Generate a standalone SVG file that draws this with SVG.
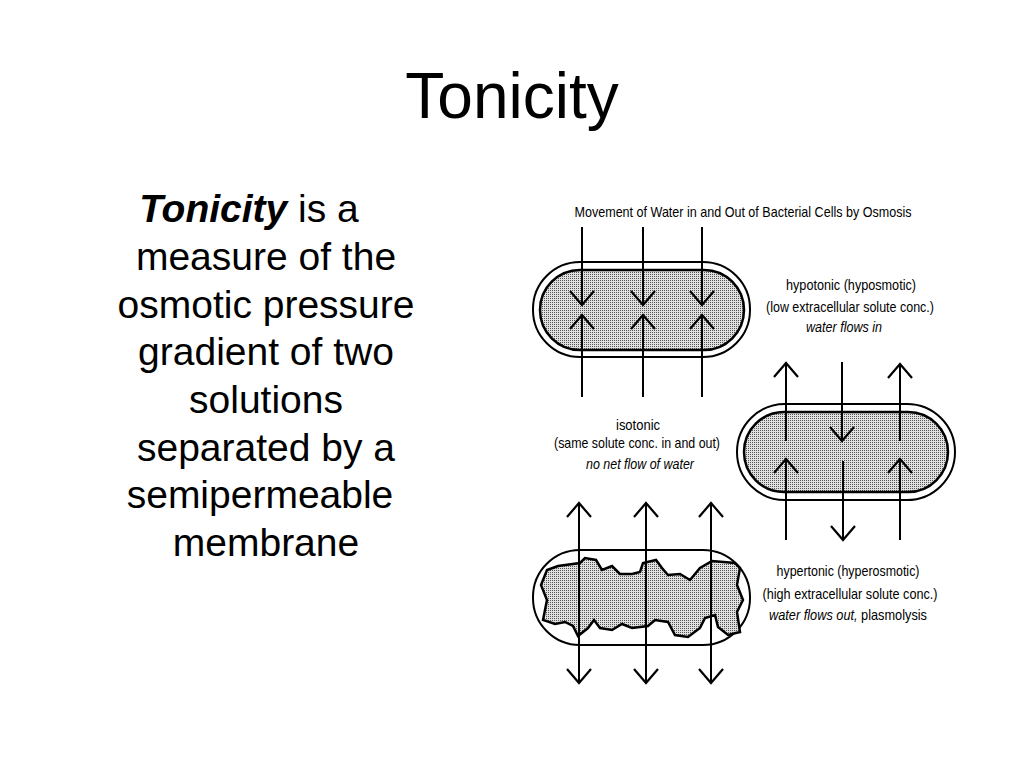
<svg xmlns="http://www.w3.org/2000/svg" width="1024" height="768" viewBox="0 0 1024 768">
<defs>
<pattern id="dots" width="2" height="2" patternUnits="userSpaceOnUse"><rect width="2" height="2" fill="#e0e0e0"/><rect width="1" height="1" fill="#555"/></pattern>
<marker id="ah" markerWidth="17" markerHeight="28" refX="15" refY="13" orient="auto" markerUnits="userSpaceOnUse"><path d="M1,1 L15,13 L1,25" fill="none" stroke="#000" stroke-width="2.2"/></marker>
</defs>
<style>
.t{font-family:"Liberation Sans",Arial,sans-serif;fill:#000}
.s{font-family:"Liberation Sans",Arial,sans-serif;font-size:15px;fill:#000;text-anchor:middle}
.cell{fill:none;stroke:#000;stroke-width:2}
.cyt{fill:url(#dots);stroke:#000;stroke-width:2.5}
.ar{stroke:#000;stroke-width:2;fill:none}
</style>
<rect width="1024" height="768" fill="#fff"/>
<text class="t" x="512" y="118" font-size="64" text-anchor="middle">Tonicity</text>
<g id="paragraph" class="t" font-size="39" text-anchor="middle">
<text x="249" y="222"><tspan font-weight="bold" font-style="italic">Tonicity</tspan> is a</text>
<text x="266" y="270">measure of the</text>
<text x="266" y="318">osmotic pressure</text>
<text x="266" y="365">gradient of two</text>
<text x="266" y="413">solutions</text>
<text x="266" y="461">separated by a</text>
<text x="260" y="508">semipermeable</text>
<text x="266" y="556">membrane</text>
</g>
<text class="s" x="743" y="217" textLength="337" lengthAdjust="spacingAndGlyphs">Movement of Water in and Out of Bacterial Cells by Osmosis</text>
<g id="cell-top">
<rect class="cell" x="533" y="262" width="217" height="95" rx="47"/>
<rect class="cyt" x="540" y="270" width="204" height="80" rx="40"/>
</g>
<g id="cell-right">
<rect class="cell" x="737" y="404" width="218" height="96" rx="48"/>
<rect class="cyt" x="744" y="412" width="204" height="80" rx="40"/>
</g>
<g id="cell-bottom">
<rect class="cell" x="533" y="550" width="217" height="95" rx="47"/>
<path class="cyt" d="M543,620 L547,600 541,585 547,570 558,566 580,563 585,558 596,560 602,570 612,566 620,574 632,574 640,572 643,563 656,560 662,568 668,575 680,574 690,580 700,568 712,561 735,563 740,568 737,585 743,600 737,612 740,632 728,635 718,627 715,615 705,618 700,628 688,637 675,635 668,622 655,620 648,626 632,628 622,624 612,630 600,628 594,620 588,628 578,636 573,626 565,622 555,624 Z"/>
</g>
<g id="connectors">
<line class="ar" x1="582" y1="227" x2="582" y2="305" marker-end="url(#ah)"/>
<line class="ar" x1="643" y1="227" x2="643" y2="305" marker-end="url(#ah)"/>
<line class="ar" x1="702" y1="227" x2="702" y2="305" marker-end="url(#ah)"/>
<line class="ar" x1="582" y1="397" x2="582" y2="315" marker-end="url(#ah)"/>
<line class="ar" x1="643" y1="397" x2="643" y2="315" marker-end="url(#ah)"/>
<line class="ar" x1="702" y1="397" x2="702" y2="315" marker-end="url(#ah)"/>
<line class="ar" x1="786" y1="441" x2="786" y2="363" marker-end="url(#ah)"/>
<line class="ar" x1="900" y1="441" x2="900" y2="364" marker-end="url(#ah)"/>
<line class="ar" x1="842" y1="362" x2="842" y2="441" marker-end="url(#ah)"/>
<line class="ar" x1="786" y1="540" x2="786" y2="459" marker-end="url(#ah)"/>
<line class="ar" x1="900" y1="540" x2="900" y2="459" marker-end="url(#ah)"/>
<line class="ar" x1="843" y1="461" x2="843" y2="540" marker-end="url(#ah)"/>
<line class="ar" x1="579" y1="593" x2="579" y2="503" marker-end="url(#ah)"/>
<line class="ar" x1="646" y1="593" x2="646" y2="503" marker-end="url(#ah)"/>
<line class="ar" x1="711" y1="593" x2="711" y2="503" marker-end="url(#ah)"/>
<line class="ar" x1="579" y1="593" x2="579" y2="683" marker-end="url(#ah)"/>
<line class="ar" x1="646" y1="593" x2="646" y2="683" marker-end="url(#ah)"/>
<line class="ar" x1="711" y1="593" x2="711" y2="683" marker-end="url(#ah)"/>
</g>
<g id="labels">
<text class="s" x="851" y="290" textLength="130" lengthAdjust="spacingAndGlyphs">hypotonic (hyposmotic)</text>
<text class="s" x="850" y="312" textLength="168" lengthAdjust="spacingAndGlyphs">(low extracellular solute conc.)</text>
<text class="s" x="844" y="332" font-style="italic" textLength="76" lengthAdjust="spacingAndGlyphs">water flows in</text>
<text class="s" x="638" y="430" textLength="44" lengthAdjust="spacingAndGlyphs">isotonic</text>
<text class="s" x="637" y="448" textLength="166" lengthAdjust="spacingAndGlyphs">(same solute conc. in and out)</text>
<text class="s" x="640" y="469" font-style="italic" textLength="108" lengthAdjust="spacingAndGlyphs">no net flow of water</text>
<text class="s" x="848" y="576" textLength="143" lengthAdjust="spacingAndGlyphs">hypertonic (hyperosmotic)</text>
<text class="s" x="850" y="599" textLength="175" lengthAdjust="spacingAndGlyphs">(high extracellular solute conc.)</text>
<text class="s" x="848" y="620" textLength="158" lengthAdjust="spacingAndGlyphs"><tspan font-style="italic">water flows out,</tspan> plasmolysis</text>
</g>
</svg>
